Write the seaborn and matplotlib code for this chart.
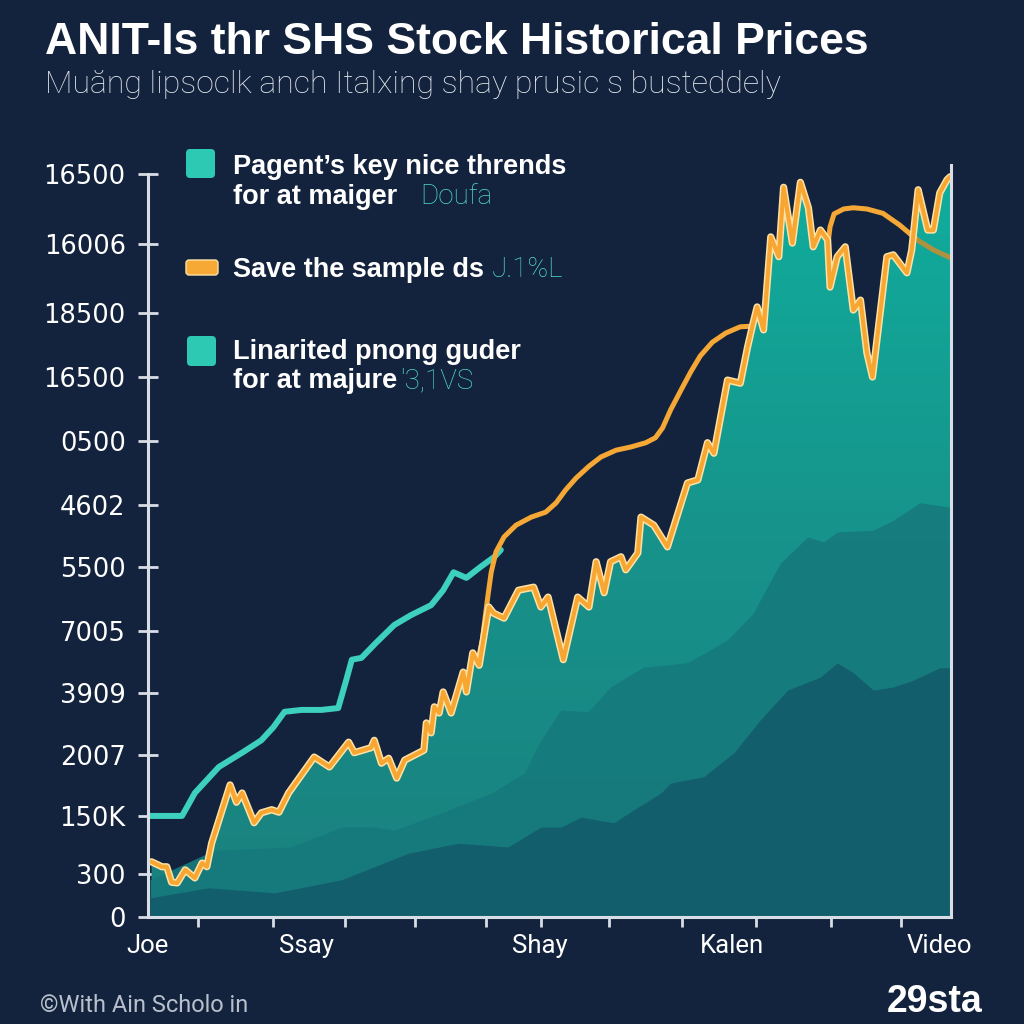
import numpy as np
import pandas as pd
import seaborn as sns
import matplotlib.pyplot as plt
import matplotlib.patheffects as pe
from matplotlib.colors import LinearSegmentedColormap
from matplotlib.patches import FancyBboxPatch

BG = "#14233d"
SPINE = "#d9dee6"

# session index (0-100) vs position on the price scale
close_pts = [(0.2, 0.89), (1.5, 0.81), (2.1, 0.81), (2.7, 0.56), (3.4, 0.55), (4.4, 0.76), (5.6, 0.63),
             (6.5, 0.87), (7.1, 0.81), (7.7, 1.19), (10.0, 2.13), (10.8, 1.85), (11.5, 2.00), (13.0, 1.52),
             (13.9, 1.68), (15.2, 1.73), (16.1, 1.69), (17.3, 2.00), (20.5, 2.58), (22.4, 2.42), (24.8, 2.82),
             (25.5, 2.65), (27.6, 2.73), (28.0, 2.85), (28.9, 2.48), (29.8, 2.56), (30.8, 2.24), (31.8, 2.53),
             (34.2, 2.69), (34.5, 3.13), (35.1, 2.97), (35.5, 3.39), (36.1, 3.29), (36.6, 3.63), (37.6, 3.29),
             (39.1, 3.95), (39.5, 3.63), (40.3, 4.26), (41.1, 4.06), (42.3, 5.00), (42.9, 4.90), (44.2, 4.82),
             (46.0, 5.27), (47.9, 5.32), (48.8, 5.00), (49.7, 5.16), (51.6, 4.15), (53.4, 5.16), (54.8, 5.00),
             (55.7, 5.73), (56.7, 5.23), (57.5, 5.73), (58.8, 5.81), (59.4, 5.60), (60.9, 5.87), (61.3, 6.45),
             (62.9, 6.32), (64.6, 5.97), (67.1, 7.00), (68.4, 7.05), (69.6, 7.65), (70.4, 7.48), (72.1, 8.66),
             (73.7, 8.61), (74.6, 9.19), (75.3, 9.58), (75.8, 9.84), (76.6, 9.47), (77.5, 10.97), (78.5, 10.65),
             (79.1, 11.77), (80.2, 10.87), (81.2, 11.85), (82.2, 11.44), (82.8, 10.81), (83.7, 11.08),
             (84.6, 10.92), (84.9, 10.16), (85.8, 10.65), (86.8, 10.81), (87.8, 9.79), (88.7, 9.95),
             (89.5, 9.10), (90.2, 8.71), (92.0, 10.65), (92.8, 10.68), (94.5, 10.39), (95.1, 10.76),
             (95.9, 11.73), (97.1, 11.08), (97.8, 11.08), (98.6, 11.68), (99.5, 11.89), (99.9, 11.94)]

teal_pts = [(0.0, 1.63), (4.0, 1.63), (4.7, 1.79), (5.6, 2.00), (7.1, 2.21), (8.6, 2.42), (11.5, 2.65),
            (13.9, 2.85), (15.4, 3.06), (16.8, 3.31), (18.9, 3.34), (21.4, 3.34), (23.5, 3.37), (24.5, 3.82),
            (25.2, 4.15), (26.4, 4.18), (28.2, 4.42), (30.5, 4.71), (32.6, 4.87), (35.1, 5.03), (36.6, 5.27),
            (37.9, 5.56), (39.5, 5.47), (41.3, 5.65), (43.0, 5.81), (43.8, 5.92)]

trend_a = [(41.1, 4.23), (41.5, 4.47), (41.8, 4.79), (42.2, 5.19), (42.6, 5.56), (43.2, 5.89), (44.2, 6.13),
           (45.7, 6.32), (47.6, 6.45), (49.4, 6.53), (50.7, 6.68), (51.9, 6.89), (53.2, 7.08), (54.8, 7.27),
           (56.3, 7.42), (58.2, 7.53), (60.0, 7.58), (61.9, 7.65), (63.1, 7.73), (64.0, 7.89), (65.0, 8.18),
           (66.3, 8.50), (67.5, 8.79), (68.7, 9.05), (70.2, 9.27), (71.9, 9.42), (73.7, 9.52), (75.2, 9.53)]

trend_b = [(84.6, 10.81), (84.9, 11.13), (85.4, 11.34), (86.6, 11.42), (87.8, 11.44), (89.5, 11.42),
           (91.5, 11.35), (93.6, 11.16), (95.8, 10.92)]
trend_b_tail = [(95.8, 10.92), (97.8, 10.76), (100.0, 10.63)]

mid_layer = [(0.0, 0.60), (8.1, 1.08), (17.7, 1.13), (23.9, 1.45), (28.0, 1.45), (30.5, 1.40), (36.4, 1.68),
             (42.6, 2.00), (46.7, 2.32), (48.8, 2.85), (51.3, 3.34), (54.7, 3.31), (57.5, 3.71), (61.6, 4.03),
             (67.1, 4.10), (72.1, 4.47), (75.3, 4.90), (78.7, 5.71), (82.1, 6.13), (84.1, 6.05), (85.8, 6.21),
             (90.3, 6.24), (92.8, 6.40), (96.1, 6.68), (99.9, 6.61)]

low_layer = [(0.0, 0.31), (7.3, 0.47), (15.6, 0.39), (23.9, 0.60), (32.3, 1.03), (38.5, 1.19), (44.7, 1.13),
             (48.8, 1.45), (51.3, 1.45), (53.8, 1.61), (57.9, 1.52), (60.4, 1.73), (63.8, 2.00), (65.0, 2.16),
             (69.1, 2.26), (72.9, 2.65), (76.2, 3.18), (79.6, 3.66), (83.7, 3.87), (85.8, 4.10), (87.8, 3.94),
             (90.3, 3.66), (92.8, 3.71), (95.3, 3.82), (98.6, 4.02), (99.9, 4.02)]

ytick_pos = [0, 0.69, 1.63, 2.61, 3.62, 4.62, 5.64, 6.64, 7.68, 8.71, 9.74, 10.86, 11.98]
ytick_labels = ["0", "300", "150K", "2007", "3909", "7005", "5500", "4602", "0500", "16500", "18500", "16006", "16500"]
xtick_pos = [6.0, 15.3, 24.3, 33.1, 41.9, 48.8, 57.3, 66.4, 75.6, 85.0, 93.8]
xlabel_pos = [-0.25, 19.5, 48.7, 72.6, 98.6]
xlabels = ["Joe", "Ssay", "Shay", "Kalen", "Video"]


def frame(pts):
    return pd.DataFrame(pts, columns=["session", "level"])


close = frame(close_pts)
teal = frame(teal_pts)
mid = frame(mid_layer)
low = frame(low_layer)

sns.set_theme(style="dark", rc={"axes.facecolor": BG, "figure.facecolor": BG})
plt.rcParams['font.family'] = ['DejaVu Sans']

fig = plt.figure(figsize=(10.24, 10.24), dpi=100)
ax = fig.add_axes([0.1445, 0.1045, 0.7842, 0.7344])
ax.set_facecolor(BG)

# main area with a vertical gradient
area = ax.fill_between(close["session"], 0, close["level"], facecolor="none", edgecolor="none", zorder=2)
grad = np.linspace(0, 1, 256).reshape(-1, 1)
cmap = LinearSegmentedColormap.from_list("area", ["#1a807e", "#17938b", "#10ae9d"])
im = ax.imshow(grad, extent=(0, 100, 0, 12.13), origin="lower", cmap=cmap, aspect="auto", zorder=2)
im.set_clip_path(area.get_paths()[0], transform=ax.transData)

ax.fill_between(mid["session"], 0, mid["level"], color="#167a7c", alpha=0.92, lw=0, zorder=3)
ax.fill_between(low["session"], 0, low["level"], color="#135d6c", alpha=0.95, lw=0, zorder=3)

sns.lineplot(data=teal, x="session", y="level", color="#3dd0bf", lw=4.3, estimator=None, ax=ax, zorder=4)
sns.lineplot(data=frame(trend_a), x="session", y="level", color="#f5a836", lw=3.6, estimator=None, ax=ax, zorder=4)
sns.lineplot(data=frame(trend_b), x="session", y="level", color="#f5a836", lw=3.6, estimator=None, ax=ax, zorder=4)
sns.lineplot(data=frame(trend_b_tail), x="session", y="level", color="#b0913e", lw=3.6, estimator=None, ax=ax, zorder=4)
sns.lineplot(data=close, x="session", y="level", color="#f7a631", lw=3.0, estimator=None, ax=ax, zorder=5,
             path_effects=[pe.Stroke(linewidth=5.2, foreground="#fde2a8"), pe.Normal()])

ax.set_xlim(0, 100)
ax.set_ylim(0, 12.13)
ax.set_xlabel("")
ax.set_ylabel("")

ax.spines["top"].set_visible(False)
for side in ["left", "bottom", "right"]:
    ax.spines[side].set_visible(True)
    ax.spines[side].set_color(SPINE)
    ax.spines[side].set_linewidth(2.2)
    ax.spines[side].set_zorder(6)
ax.spines["left"].set_bounds(0, 11.98)

ax.set_yticks(ytick_pos, ytick_labels)
ax.tick_params(axis="y", direction="inout", length=14, width=2, color=SPINE, labelcolor="white",
               labelsize=18.5, pad=9, left=True)

ax.set_xticks(xtick_pos, [""] * len(xtick_pos))
ax.set_xticks(xlabel_pos, xlabels, minor=True)
ax.tick_params(axis="x", which="major", direction="inout", length=15, width=2, color=SPINE, bottom=True)
ax.tick_params(axis="x", which="minor", length=0, labelcolor="white", labelsize=18.5, pad=12)
for t in ax.get_xticklabels(minor=True):
    t.set_fontfamily("Roboto")

# titles
fig.text(0.044, 1 - 54 / 1024, "ANIT-Is thr SHS Stock Historical Prices", color="white",
         fontsize=32, fontweight="bold", family="Liberation Sans", va="baseline")
fig.text(0.044, 1 - 93 / 1024, "Muăng lipsoclk anch Italxing shay prusic s busteddely", color="#e4e8ee",
         fontsize=23, fontweight="light", family="Roboto", va="baseline")

# legend block
fig.patches.append(FancyBboxPatch((186 / 1024, 1 - 178 / 1024), 29 / 1024, 29 / 1024,
                                  boxstyle="round,pad=0,rounding_size=0.004", transform=fig.transFigure,
                                  facecolor="#2ec9b2", edgecolor="none"))
fig.patches.append(FancyBboxPatch((186 / 1024, 1 - 275 / 1024), 32 / 1024, 15 / 1024,
                                  boxstyle="round,pad=0,rounding_size=0.003", transform=fig.transFigure,
                                  facecolor="#f6a935", edgecolor="#fde2a8", lw=1))
fig.patches.append(FancyBboxPatch((187 / 1024, 1 - 366 / 1024), 29 / 1024, 30 / 1024,
                                  boxstyle="round,pad=0,rounding_size=0.004", transform=fig.transFigure,
                                  facecolor="#2ec9b2", edgecolor="none"))

bold = dict(color="white", fontsize=19.5, fontweight="bold", family="Liberation Sans", va="baseline")
thin = dict(color="#4fd8cc", fontsize=20, fontweight="light", family="Roboto", va="baseline")
fig.text(233 / 1024, 1 - 174 / 1024, "Pagent’s key nice thrends", **bold)
fig.text(233 / 1024, 1 - 204 / 1024, "for at maiger", **bold)
fig.text(420 / 1024, 1 - 204 / 1024, "Doufa", **thin)
fig.text(233 / 1024, 1 - 277 / 1024, "Save the sample ds", **bold)
fig.text(492 / 1024, 1 - 277 / 1024, "J.1%L", **thin)
fig.text(233 / 1024, 1 - 359 / 1024, "Linarited pnong guder", **bold)
fig.text(233 / 1024, 1 - 388 / 1024, "for at majure", **bold)
fig.text(400 / 1024, 1 - 388 / 1024, "'3,1VS", **thin)

# footer
fig.text(40 / 1024, 1 - 1012 / 1024, "©With Ain Scholo in", color="#b8c0cc", fontsize=17,
         family="Roboto", va="baseline")
fig.text(983 / 1024, 1 - 1012 / 1024, "29sta", color="white", fontsize=27, fontweight="bold",
         family="Liberation Sans", ha="right", va="baseline")

fig.savefig("out.png", dpi=100, facecolor=BG)
